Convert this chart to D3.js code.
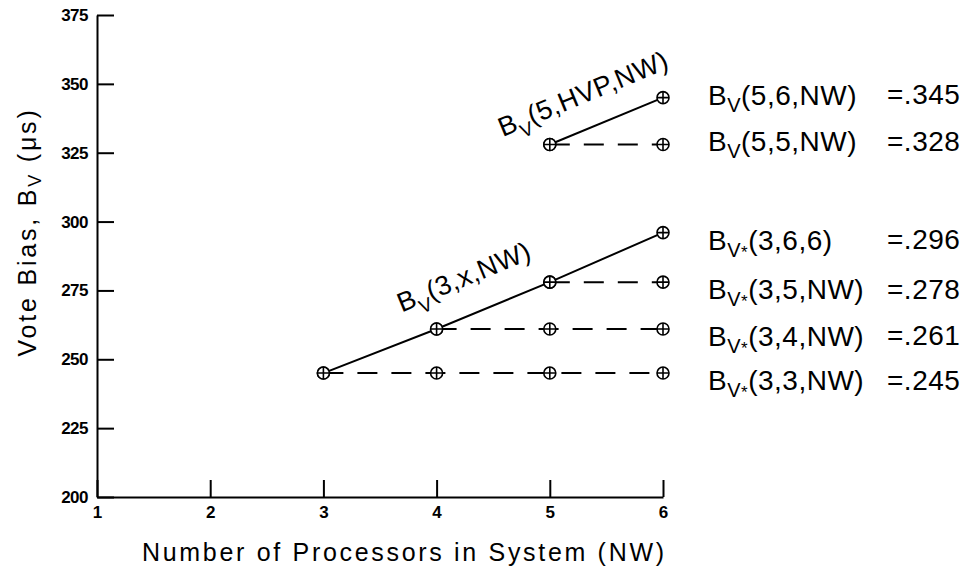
<!DOCTYPE html>
<html>
<head>
<meta charset="utf-8">
<script src="https://cdn.jsdelivr.net/npm/d3@7"></script>
<style>
  body { margin: 0; background: #fff; }
  svg { display: block; font-family: "Liberation Sans", Arial, sans-serif; }
  .axis path, .axis line { stroke: #000; stroke-width: 2; }
</style>
</head>
<body>
<svg id="chart" width="974" height="570"></svg>
<script>
// x ticks / y ticks
const procs = [1, 2, 3, 4, 5, 6];
const biasTicks = [200, 225, 250, 275, 300, 325, 350, 375];

// B_V(3,x,NW)
const nwVoter = [3, 4, 5, 6];
const biasVoter = [245, 261, 278, 296];

// B_V(5,HVP,NW)
const nwHVP = [5, 6];
const biasHVP = [328, 345];

// fixed-size levels (dashed), drawn from a start NW out to 6
const fixedLevels = [245, 261, 278, 328];
const fixedFrom = [3, 4, 5, 5];

// right hand labels
const labelArgs = ["(5,6,NW)", "(5,5,NW)", "(3,6,6)", "(3,5,NW)", "(3,4,NW)", "(3,3,NW)"];
const labelStar = [false, false, true, true, true, true];
const labelBias = [345, 328, 296, 278, 261, 245];
const labelValues = [".345", ".328", ".296", ".278", ".261", ".245"];

const svg = d3.select("#chart");

const x = d3.scaleLinear().domain([1, 6]).range([97, 663]);
const y = d3.scaleLinear().domain([200, 375]).range([497, 15]);

// axes
const xAxis = svg.append("g")
  .attr("class", "axis")
  .attr("transform", `translate(0, ${y(200)})`)
  .call(d3.axisBottom(x).tickValues(procs).tickFormat(d3.format("d"))
    .tickSizeInner(-17).tickSizeOuter(0).tickPadding(10));
xAxis.attr("font-size", null);
xAxis.selectAll(".tick text")
  .attr("y", 9).attr("dy", "0.71em")
  .style("font-size", "17px").style("font-weight", "bold");

const yAxis = svg.append("g")
  .attr("class", "axis")
  .attr("transform", `translate(${x(1)}, 0)`)
  .call(d3.axisLeft(y).tickValues(biasTicks)
    .tickSizeInner(-17).tickSizeOuter(0).tickPadding(9));
yAxis.attr("font-size", null);
yAxis.selectAll(".tick text")
  .style("font-size", "17px").style("font-weight", "bold").style("letter-spacing", "-0.5px");

const line = d3.line().x(d => x(d[0])).y(d => y(d[1]));

// dashed fixed levels
fixedLevels.forEach((lv, i) => {
  svg.append("path")
    .attr("d", line([[fixedFrom[i], lv], [6, lv]]))
    .attr("fill", "none")
    .attr("stroke", "#000")
    .attr("stroke-width", 2)
    .attr("stroke-dasharray", "20,14");
});

// solid lines
const voterPts = nwVoter.map((n, i) => [n, biasVoter[i]]);
const hvpPts = nwHVP.map((n, i) => [n, biasHVP[i]]);
[voterPts, hvpPts].forEach(pts => {
  svg.append("path")
    .attr("d", line(pts))
    .attr("fill", "none")
    .attr("stroke", "#000")
    .attr("stroke-width", 2);
});

// markers
const markPts = [];
fixedLevels.forEach((lv, i) => {
  procs.filter(n => n >= fixedFrom[i]).forEach(n => markPts.push([n, lv]));
});
voterPts.concat(hvpPts).forEach(p => markPts.push(p));

const marks = svg.append("g").selectAll("g")
  .data(markPts)
  .join("g")
  .attr("transform", d => `translate(${x(d[0])}, ${y(d[1])})`);
marks.append("circle").attr("r", 6).attr("fill", "#fff").attr("stroke", "#000").attr("stroke-width", 1.6);
marks.append("path").attr("d", "M-6,0H6M0,-6V6").attr("stroke", "#000").attr("stroke-width", 1.6);

// sloped line labels
const slope = Math.atan2(y(biasVoter[3]) - y(biasVoter[0]), x(6) - x(3)) * 180 / Math.PI;

function slopedLabel(nw, xs, ys, txt, off) {
  // interpolate bias at nw along the line
  const b = d3.scaleLinear().domain(xs).range(ys)(nw);
  const t = svg.append("text")
    .attr("transform", `translate(${x(nw)}, ${y(b)}) rotate(${slope})`)
    .attr("y", -off)
    .attr("text-anchor", "middle")
    .attr("font-size", 27)
    .attr("letter-spacing", 0.5);
  t.append("tspan").text("B");
  t.append("tspan").attr("dy", 9).attr("font-size", 19).text("V");
  t.append("tspan").attr("dy", -9).text(txt);
}
slopedLabel(4.36, [3, 6], [biasVoter[0], biasVoter[3]], "(3,x,NW)", 26);
slopedLabel(5.41, nwHVP, biasHVP, "(5,HVP,NW)", 25);

// right labels
labelArgs.forEach((a, i) => {
  const cy = y(labelBias[i]) + (labelStar[i] ? 7 : -3);
  const t = svg.append("text")
    .attr("x", 708)
    .attr("y", cy)
    .attr("dominant-baseline", "central")
    .attr("font-size", 28)
    .attr("letter-spacing", 0.5);
  t.append("tspan").text("B");
  t.append("tspan").attr("dy", 10).attr("font-size", 20).text("V");
  if (labelStar[i]) t.append("tspan").attr("font-size", 17).attr("dy", 2).text("*");
  t.append("tspan").attr("dy", labelStar[i] ? -12 : -10).text(a);
  svg.append("text")
    .attr("x", 887)
    .attr("y", cy)
    .attr("dominant-baseline", "central")
    .attr("font-size", 28)
    .attr("letter-spacing", 0.5)
    .text("=" + labelValues[i]);
});

// axis titles
svg.append("text")
  .attr("x", 142)
  .attr("y", 552)
  .attr("dominant-baseline", "central")
  .attr("font-size", 25)
  .attr("textLength", 522)
  .attr("lengthAdjust", "spacing")
  .text("Number of Processors in System (NW)");

const yl = svg.append("text")
  .attr("transform", "translate(27, 232) rotate(-90)")
  .attr("text-anchor", "middle")
  .attr("dominant-baseline", "central")
  .attr("font-size", 25)
  .attr("letter-spacing", 2.8);
yl.append("tspan").text("Vote Bias, B");
yl.append("tspan").attr("dy", 8).attr("font-size", 18).text("V");
yl.append("tspan").attr("dy", -8).text(" (\u03bcs)");
</script>
</body>
</html>
